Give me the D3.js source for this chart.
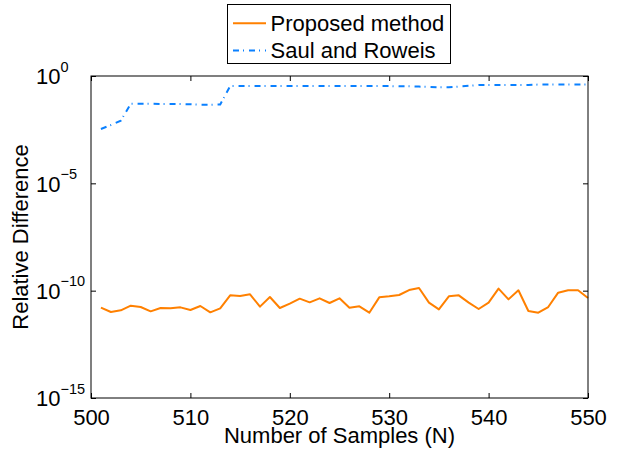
<!DOCTYPE html>
<html>
<head>
<meta charset="utf-8">
<script src="https://cdn.jsdelivr.net/npm/d3@7"></script>
<style>
  body { margin: 0; background: #fff; }
  svg { display: block; }
  text { font-family: "Liberation Sans", Arial, Helvetica, sans-serif; fill: #000; }
</style>
</head>
<body>
<div id="chart"></div>
<script>
// ── data ───────────────────────────────────────────────
const samples = [
  501, 502, 503, 504, 505, 506, 507, 508, 509, 510,
  511, 512, 513, 514, 515, 516, 517, 518, 519, 520,
  521, 522, 523, 524, 525, 526, 527, 528, 529, 530,
  531, 532, 533, 534, 535, 536, 537, 538, 539, 540,
  541, 542, 543, 544, 545, 546, 547, 548, 549, 550
];
const proposed = [
  1.61e-11, 1.01e-11, 1.21e-11, 2.00e-11, 1.73e-11, 1.09e-11, 1.56e-11, 1.50e-11, 1.67e-11, 1.26e-11,
  1.93e-11, 9.8e-12, 1.50e-11, 6.07e-11, 5.65e-11, 6.75e-11, 1.80e-11, 5.07e-11, 1.56e-11, 2.48e-11,
  4.24e-11, 2.86e-11, 4.40e-11, 2.66e-11, 4.40e-11, 1.61e-11, 1.86e-11, 9.4e-12, 4.89e-11, 5.44e-11,
  6.28e-11, 1.07e-10, 1.33e-10, 2.76e-11, 1.35e-11, 5.44e-11, 6.07e-11, 2.76e-11, 1.40e-11, 2.76e-11,
  1.24e-10, 3.94e-11, 1.04e-10, 1.13e-11, 9.4e-12, 1.73e-11, 8.07e-11, 1.04e-10, 1.04e-10, 4.55e-11
];
const saulRoweis = [
  3.4e-3, 5.2e-3, 8.3e-3, 0.051, 0.051, 0.051, 0.050, 0.050, 0.049, 0.048,
  0.046, 0.046, 0.047, 0.34, 0.34, 0.34, 0.34, 0.34, 0.34, 0.34,
  0.34, 0.34, 0.34, 0.34, 0.34, 0.34, 0.34, 0.34, 0.34, 0.34,
  0.33, 0.33, 0.32, 0.31, 0.30, 0.30, 0.32, 0.35, 0.38, 0.38,
  0.38, 0.38, 0.38, 0.38, 0.40, 0.40, 0.40, 0.40, 0.40, 0.40
];
const xTicks = [500, 510, 520, 530, 540, 550];
const yTicks = [1e-15, 1e-10, 1e-5, 1];
const yTickExp = ["\u221215", "\u221210", "\u22125", "0"];
const seriesNames = ["Proposed method", "Saul and Roweis"];

// ── layout ─────────────────────────────────────────────
const W = 619, H = 451;
const plot = { left: 91, right: 588, top: 76, bottom: 398 };
const orange = "#ff8000", blue = "#0a80ff";
const dashDot = "6,4,1,5";

const svg = d3.select("#chart").append("svg").attr("width", W).attr("height", H);

const x = d3.scaleLinear().domain([500, 550]).range([plot.left, plot.right]);
const y = d3.scaleLog().domain([1e-15, 1]).range([plot.bottom, plot.top]);

// ── lines ──────────────────────────────────────────────
const line = d3.line().x((d, i) => x(samples[i])).y(d => y(d));

svg.append("path").datum(proposed)
    .attr("d", line).attr("fill", "none")
    .attr("stroke", orange).attr("stroke-width", 2).attr("stroke-linejoin", "round");

svg.append("path").datum(saulRoweis)
    .attr("d", line).attr("fill", "none")
    .attr("stroke", blue).attr("stroke-width", 2).attr("stroke-dasharray", dashDot);

// ── axes (ticks pointing inward) ───────────────────────
const axB = svg.append("g").attr("transform", `translate(0,${plot.bottom})`)
    .call(d3.axisBottom(x).tickValues(xTicks).tickSize(-5).tickSizeOuter(0).tickPadding(11).tickFormat(d3.format("d")));
const axT = svg.append("g").attr("transform", `translate(0,${plot.top})`)
    .call(d3.axisTop(x).tickValues(xTicks).tickSize(-5).tickSizeOuter(0).tickFormat(""));
const axL = svg.append("g").attr("transform", `translate(${plot.left},0)`)
    .call(d3.axisLeft(y).tickValues(yTicks).tickSize(-5).tickSizeOuter(0).tickFormat(""));
const axR = svg.append("g").attr("transform", `translate(${plot.right},0)`)
    .call(d3.axisRight(y).tickValues(yTicks).tickSize(-5).tickSizeOuter(0).tickFormat(""));

[axB, axT, axL, axR].forEach(a => {
    a.select(".domain").remove();
    a.selectAll(".tick line").attr("stroke", "#000");
});
axB.selectAll(".tick text").style("font-size", "22px").attr("fill", "#000");

// y tick labels: 10 with superscript exponent, left aligned (MATLAB style)
yTicks.forEach((v, i) => {
    const t = svg.append("text")
        .attr("x", 36).attr("y", y(v) + 8.3)
        .style("font-size", "22px");
    t.append("tspan").text("10");
    t.append("tspan").attr("dy", -12.8).style("font-size", "14.5px").text(yTickExp[i]);
});

// frame
svg.append("rect")
    .attr("x", plot.left).attr("y", plot.top)
    .attr("width", plot.right - plot.left).attr("height", plot.bottom - plot.top)
    .attr("fill", "none").attr("stroke", "#000").attr("stroke-width", 1);

// axis titles
svg.append("text")
    .attr("x", (plot.left + plot.right) / 2).attr("y", 443)
    .attr("text-anchor", "middle").style("font-size", "22px")
    .text("Number of Samples (N)");
svg.append("text")
    .attr("transform", `translate(27.5,${(plot.top + plot.bottom) / 2}) rotate(-90)`)
    .attr("text-anchor", "middle").style("font-size", "22px")
    .text("Relative Difference");

// ── legend ─────────────────────────────────────────────
const lg = svg.append("g");
lg.append("rect")
    .attr("x", 227.5).attr("y", 4.5).attr("width", 223).attr("height", 59)
    .attr("fill", "#fff").attr("stroke", "#000").attr("stroke-width", 1);
const legendRows = [
    { name: seriesNames[0], color: orange, dash: null, ly: 23.3, ty: 30.8 },
    { name: seriesNames[1], color: blue, dash: dashDot, ly: 50.5, ty: 58 }
];
legendRows.forEach(r => {
    lg.append("line")
        .attr("x1", 233).attr("x2", 266).attr("y1", r.ly).attr("y2", r.ly)
        .attr("stroke", r.color).attr("stroke-width", 2)
        .attr("stroke-dasharray", r.dash);
    lg.append("text").attr("x", 270.5).attr("y", r.ty)
        .style("font-size", "22px").text(r.name);
});
</script>
</body>
</html>
